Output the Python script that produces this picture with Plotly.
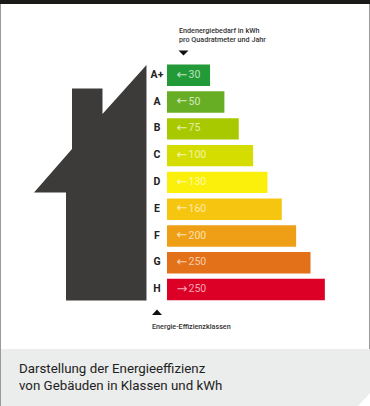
import plotly.graph_objects as go

W, H = 370, 406
classes = ["A+", "A", "B", "C", "D", "E", "F", "G", "H"]
bar_units = [3, 4, 5, 6, 7, 8, 9, 10, 11]
arrows = ["←", "←", "←", "←", "←", "←", "←", "←", "→"]
kwh_labels = ["30", "50", "75", "100", "130", "160", "200", "250", "250"]
bar_colors = ["#229a37", "#67ae24", "#a8c800", "#d5dc00", "#faf00c", "#f6c510", "#ef9f15", "#e2711a", "#dc0027"]
label_colors = ["#bfe3c2", "#d5e8bd", "#e6efa8", "#f2f4a5", "#fdf9a8", "#fcebaa", "#fae0ac", "#f7cda5", "#f5a5b3"]
house_x = [146.5, 146.5, 66, 66, 34, 72, 72, 102.5, 102.5]
house_y = [65, 300.5, 300.5, 192.5, 192.5, 149, 88.5, 88.5, 114]
top_title = "Endenergiebedarf in kWh<br>pro Quadratmeter und Jahr"
bottom_title = "Energie-Effizienzklassen"
caption = "Darstellung der Energieeffizienz<br>von Gebäuden in Klassen und kWh"

BAR_X0, PITCH_TOP, PITCH_BOTTOM = 167, 61.9, 302.9
UNIT = 14.35
X_START, X_END = 147, 345
DARK = "#3c3b39"


def ux(pixel):
    return (pixel - BAR_X0) / UNIT


fig = go.Figure()
fig.add_trace(go.Bar(
    y=classes, x=bar_units, orientation="h", marker=dict(color=bar_colors, line=dict(width=0)),
    width=0.8, hoverinfo="skip", showlegend=False,
))
fig.add_trace(go.Scatter(
    x=[ux(176.5)] * len(classes), y=classes, mode="text", text=arrows, textposition="middle right",
    textfont=dict(family="DejaVu Sans", size=13, color=label_colors), hoverinfo="skip", showlegend=False,
))
fig.add_trace(go.Scatter(
    x=[ux(188.5)] * len(classes), y=classes, mode="text", text=kwh_labels, textposition="middle right",
    textfont=dict(family="Roboto", size=10.5, color=label_colors), hoverinfo="skip", showlegend=False,
))
fig.add_trace(go.Scatter(
    x=[ux(157)] * len(classes), y=classes, mode="text", text=classes,
    textposition="middle center", cliponaxis=False,
    textfont=dict(family="Roboto", size=10.5, color="#222222", weight=700), hoverinfo="skip", showlegend=False,
))


def px(x):
    return x / W


def py(y):
    return 1 - y / H


house_path = "M " + " L ".join(f"{px(x):.4f},{py(y):.4f}" for x, y in zip(house_x, house_y)) + " Z"
caption_path = "M " + " L ".join(f"{px(x):.4f},{py(y):.4f}" for x, y in
                                 [(1, 349), (370, 349), (370, 393), (358, 406), (1, 406)]) + " Z"
up = "M " + " L ".join(f"{px(x):.4f},{py(y):.4f}" for x, y in [(152, 315), (162, 315), (157, 309.5)]) + " Z"
down = "M " + " L ".join(f"{px(x):.4f},{py(y):.4f}" for x, y in [(178.5, 50.5), (188.5, 50.5), (183.5, 55.5)]) + " Z"

shapes = [
    dict(type="rect", xref="paper", yref="paper", x0=0, x1=1, y0=py(4), y1=1, fillcolor="#1a1a18", line_width=0),
    dict(type="rect", xref="paper", yref="paper", x0=0, x1=px(1), y0=0, y1=py(4), fillcolor="#9a9a9a", line_width=0),
    dict(type="rect", xref="paper", yref="paper", x0=px(369), x1=1, y0=py(349), y1=py(4), fillcolor="#9a9a9a", line_width=0),
    dict(type="path", xref="paper", yref="paper", path=caption_path, fillcolor="#ebecec", line_width=0),
    dict(type="path", xref="paper", yref="paper", path=house_path, fillcolor=DARK, line_width=0),
    dict(type="path", xref="paper", yref="paper", path=up, fillcolor="#111111", line_width=0),
    dict(type="path", xref="paper", yref="paper", path=down, fillcolor="#111111", line_width=0),
]

annotations = [
    dict(xref="paper", yref="paper", x=px(178), y=py(35.5), text=top_title, showarrow=False, xanchor="left",
         xshift=-1, yanchor="middle", align="left", font=dict(family="Roboto", size=7.2, color="#333333", weight=500)),
    dict(xref="paper", yref="paper", x=px(151), y=py(326), text=bottom_title, showarrow=False, xanchor="left",
         xshift=-1, yanchor="middle", align="left", font=dict(family="Roboto", size=7.2, color="#333333", weight=500)),
    dict(xref="paper", yref="paper", x=px(18), y=py(377), text=caption, showarrow=False, xanchor="left",
         xshift=-1, yanchor="middle", align="left", font=dict(family="Roboto", size=13.3, color="#222222", weight=400)),
]

fig.update_layout(
    width=W, height=H, margin=dict(l=0, r=0, t=0, b=0), paper_bgcolor="white", plot_bgcolor="rgba(0,0,0,0)",
    shapes=shapes, annotations=annotations, showlegend=False, barmode="overlay",
    xaxis=dict(domain=[px(X_START), px(X_END)], range=[ux(X_START), ux(X_END)], visible=False, fixedrange=True),
    yaxis=dict(domain=[py(PITCH_BOTTOM), py(PITCH_TOP)], autorange=False, range=[8.5, -0.5], type="category",
               categoryorder="array", categoryarray=classes, visible=False, fixedrange=True),
)
fig.write_html("out.html", config=dict(displayModeBar=False),
               post_script="document.body.style.margin='0';document.body.style.overflow='hidden';")
